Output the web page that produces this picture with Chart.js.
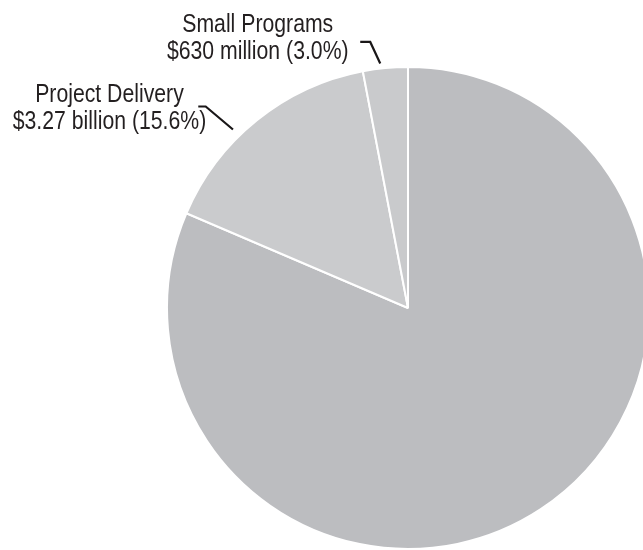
<!DOCTYPE html>
<html>
<head>
<meta charset="utf-8">
<script src="https://cdn.jsdelivr.net/npm/chart.js@4.4.1/dist/chart.umd.min.js"></script>
<style>
  html, body { margin: 0; padding: 0; background: #ffffff; overflow: hidden; }
  #wrap { position: relative; width: 656px; height: 550px; }
</style>
</head>
<body>
<div id="wrap"><canvas id="c" width="656" height="550"></canvas></div>
<script>
// ---- data ----
const categories = ['Other Programs', 'Project Delivery', 'Small Programs'];
const valuesBillion = [17.1, 3.27, 0.63];
const sliceColors = ['#bcbdc0', '#cacbcd', '#c9cacc'];
const labelTitles = ['', 'Project Delivery', 'Small Programs'];
const labelValues = ['', '$3.27 billion (15.6%)', '$630 million (3.0%)'];

// ---- label geometry (styling, relative to each arc) ----
const labelStyle = {
  1: { frac: 0.4, gap: 9, elbow: [-27.3, -23], tail: 7.4, textDx: -88.8, base1: -4.3, base2: 22.3 },
  2: { frac: 0.4, gap: 5, elbow: [-10, -21.6], tail: 10, textDx: -102.5, base1: -10, base2: 16.6 }
};

const FONT_FAMILY = '"Liberation Sans Narrow", "Arial Narrow", "Liberation Sans", Arial, sans-serif';

const calloutPlugin = {
  id: 'callouts',
  afterDraw(chart) {
    const ctx = chart.ctx;
    const meta = chart.getDatasetMeta(0);
    ctx.save();
    ctx.font = '26px ' + FONT_FAMILY;
    const w = ctx.measureText('Small Programs').width;
    const sx = w > 160 ? 151 / w : 1;
    meta.data.forEach((arc, i) => {
      const st = labelStyle[i];
      if (!st || !labelTitles[i]) return;
      const p = arc.getProps(['x', 'y', 'startAngle', 'endAngle', 'outerRadius'], true);
      const a = p.startAngle + (p.endAngle - p.startAngle) * st.frac;
      const r = p.outerRadius + st.gap;
      const ax = p.x + r * Math.cos(a);
      const ay = p.y + r * Math.sin(a);
      const ex = ax + st.elbow[0], ey = ay + st.elbow[1];
      const tx = ex - st.tail, ty = ey;
      ctx.strokeStyle = '#1a1718';
      ctx.lineWidth = 2.2;
      ctx.lineCap = 'butt';
      ctx.lineJoin = 'miter';
      ctx.beginPath();
      ctx.moveTo(ax, ay);
      ctx.lineTo(ex, ey);
      ctx.lineTo(tx, ty);
      ctx.stroke();
      const cx = tx + st.textDx;
      ctx.fillStyle = '#231f20';
      ctx.textAlign = 'center';
      ctx.textBaseline = 'alphabetic';
      [[labelTitles[i], st.base1], [labelValues[i], st.base2]].forEach(([t, b]) => {
        ctx.save();
        ctx.translate(cx, ty + b);
        ctx.scale(sx, 1);
        ctx.fillText(t, 0, 0);
        ctx.restore();
      });
    });
    ctx.restore();
  }
};

new Chart(document.getElementById('c'), {
  type: 'pie',
  data: {
    labels: categories,
    datasets: [{
      data: valuesBillion,
      backgroundColor: sliceColors,
      borderColor: '#ffffff',
      borderWidth: 2,
      hoverOffset: 0
    }]
  },
  options: {
    responsive: false,
    animation: false,
    radius: 241,
    layout: { padding: { left: 168, top: 68, right: 8, bottom: 2 } },
    plugins: {
      legend: { display: false },
      tooltip: { enabled: false },
      title: { display: false }
    },
    events: []
  },
  plugins: [calloutPlugin]
});
</script>
</body>
</html>
